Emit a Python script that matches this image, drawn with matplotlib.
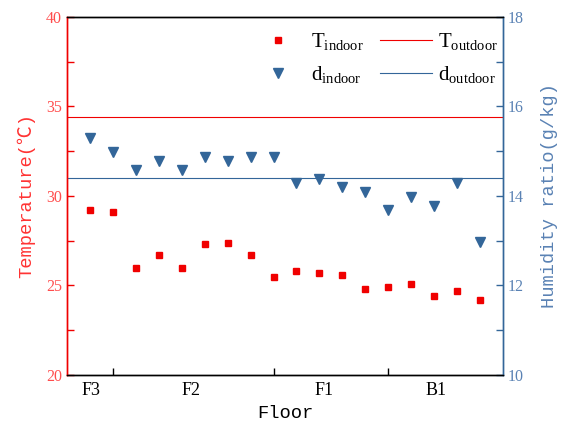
import matplotlib
matplotlib.use("Agg")
import matplotlib.pyplot as plt
from matplotlib.ticker import MultipleLocator, FixedLocator, NullFormatter

# data
floor_idx = list(range(1, 19))
t_indoor = [29.2, 29.1, 26.0, 26.7, 26.0, 27.3, 27.4, 26.7, 25.5,
            25.8, 25.7, 25.6, 24.8, 24.9, 25.1, 24.4, 24.7, 24.2]
d_indoor = [15.29, 14.99, 14.58, 14.78, 14.58, 14.88, 14.78, 14.88, 14.88,
            14.28, 14.39, 14.19, 14.09, 13.69, 13.97, 13.78, 14.28, 12.98]
t_outdoor = 34.4
d_outdoor = 14.4
group_ticks = [2, 9, 14]
floor_labels = ["F3", "F2", "F1", "B1"]
floor_label_pos = [1.05, 5.4, 11.2, 16.1]

RED = "#f00000"
BLUE = "#336699"
serif = ["Liberation Serif", "Noto Sans CJK SC"]
mono = ["Liberation Mono", "Noto Sans CJK SC"]

plt.rcParams["font.family"] = serif
plt.rcParams["mathtext.fontset"] = "custom"
plt.rcParams["mathtext.rm"] = "Liberation Serif"

fig = plt.figure(figsize=(5.62, 4.30), dpi=100)
ax = fig.add_axes([0.1192, 0.1279, 0.7758, 0.8326])
ax2 = ax.twinx()

h1, = ax.plot(floor_idx, t_indoor, ls="none", marker="s", ms=5, color=RED,
              label=r"T$_{\mathrm{indoor}}$")
h3 = ax.axhline(t_outdoor, color=RED, lw=0.8, label=r"T$_{\mathrm{outdoor}}$")
h2, = ax2.plot(floor_idx, d_indoor, ls="none", marker="v", ms=6.5, color=BLUE,
               label=r"d$_{\mathrm{indoor}}$")
h4 = ax2.axhline(d_outdoor, color=BLUE, lw=0.8, label=r"d$_{\mathrm{outdoor}}$")

ax.set_xlim(0, 19)
ax.set_ylim(20, 40)
ax2.set_ylim(10, 18)

ax.yaxis.set_major_locator(MultipleLocator(5))
ax.yaxis.set_minor_locator(MultipleLocator(2.5))
ax2.yaxis.set_major_locator(MultipleLocator(2))
ax2.yaxis.set_minor_locator(MultipleLocator(1))

ax.xaxis.set_major_locator(FixedLocator(group_ticks))
ax.xaxis.set_major_formatter(NullFormatter())
ax.set_xticks(floor_label_pos, floor_labels, minor=True)
ax.tick_params(axis="x", which="major", direction="in", length=5, width=1, colors="black")
ax.tick_params(axis="x", which="minor", length=0, labelsize=13, pad=5)

ax.tick_params(axis="y", which="both", direction="in", length=5, width=1,
               colors=RED, labelsize=11.5, labelcolor="#ff4d4d")
ax2.tick_params(axis="y", which="both", direction="in", length=5, width=1,
                colors=BLUE, labelsize=11.5, labelcolor="#5a82b4")
ax.tick_params(axis="y", which="minor", labelleft=False)
ax2.tick_params(axis="y", which="minor", labelright=False)

for a in (ax, ax2):
    a.spines["left"].set_color(RED)
    a.spines["right"].set_color(BLUE)
    a.spines["top"].set_color("black")
    a.spines["bottom"].set_color("black")
    for s in a.spines.values():
        s.set_linewidth(1.0)

ax.set_xlabel("Floor", fontsize=13.5, family=mono, labelpad=4)
ax.set_ylabel("Temperature(℃)", fontsize=13.5, family=mono, color="#ff3333", labelpad=8)
ax2.set_ylabel("Humidity ratio(g/kg)", fontsize=13.5, family=mono, color="#5a82b4",
               labelpad=12)

ax2.legend([h1, h2, h3, h4],
           [h1.get_label(), h2.get_label(), h3.get_label(), h4.get_label()],
           ncol=2, frameon=False, fontsize=15, loc="upper right",
           bbox_to_anchor=(1.014, 0.99), handlelength=2.5, handletextpad=0.3,
           columnspacing=0.8, labelspacing=0.55, borderaxespad=0.1)

fig.savefig("out.png", dpi=100)
